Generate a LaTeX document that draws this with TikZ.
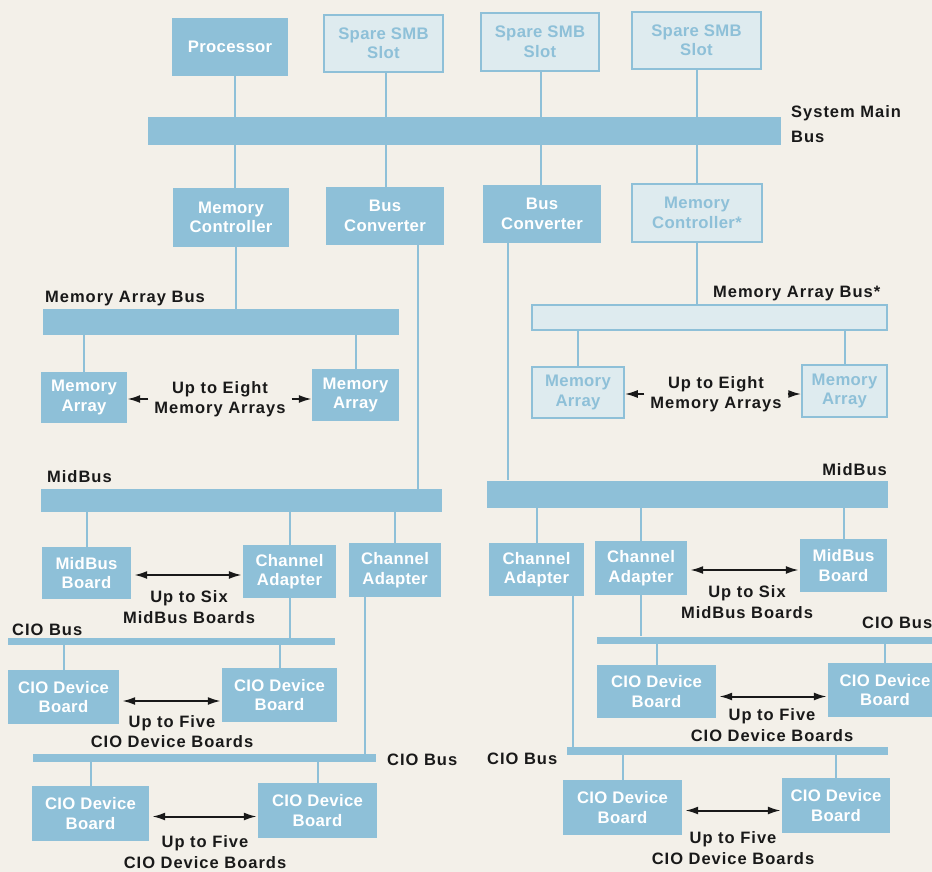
\documentclass[tikz,border=0pt]{standalone}
\usepackage{fontspec}
\setmainfont{Liberation Sans}
\newfontfamily\boxfont{Liberation Sans}[LetterSpace=2]
\newfontfamily\labelfont{Liberation Sans}[LetterSpace=6]
\usetikzlibrary{arrows.meta}
\definecolor{paper}{RGB}{243,240,233}
\definecolor{hpblue}{RGB}{142,192,216}
\definecolor{hppale}{RGB}{222,235,239}
\definecolor{ink}{RGB}{25,25,25}
\pgfdeclarelayer{paperlayer}
\pgfdeclarelayer{wires}
\pgfsetlayers{paperlayer,wires,main}

\begin{document}
\begin{tikzpicture}[x=1pt,y=-1pt,
  txt/.style={font=\boxfont\bfseries\fontsize{16.7}{19.5}\selectfont, align=center},
  sz/.style 2 args={minimum width=#1pt, minimum height=#2pt},
  unit/.style={txt, fill=hpblue, text=white, inner sep=0pt},
  spare/.style={txt, fill=hppale, draw=hpblue, line width=1.5pt, text=hpblue, inner sep=0pt},
  busbar/.style={fill=hpblue, inner sep=0pt},
  sparebus/.style={fill=hppale, draw=hpblue, line width=1.5pt, inner sep=0pt},
  lbl/.style={align=center, text=ink, inner sep=0pt, font=\labelfont\bfseries\fontsize{16.5}{20.5}\selectfont},
  lbltall/.style={lbl, align=left, font=\labelfont\bfseries\fontsize{16.5}{25}\selectfont},
  note/.style={lbl, inner xsep=6pt},
  wire/.style={draw=hpblue, line width=2pt},
  onehead/.style={draw=ink, line width=2pt, -{Latex[length=13pt,width=8pt]}},
  twohead/.style={draw=ink, line width=2pt, {Latex[length=13pt,width=8pt]}-{Latex[length=13pt,width=8pt]}, shorten <=3pt, shorten >=1pt},
]
\useasboundingbox (0,0) rectangle (932,872);
\clip (0,0) rectangle (932,872);
\begin{pgfonlayer}{paperlayer}
  \fill[paper] (0,0) rectangle (932,872);
\end{pgfonlayer}

% System Main Bus and its slots
\node[unit, sz={116}{58}] (proc) at (230,47) {Processor};
\node[spare, sz={119}{57}] (sp1) at (383.5,43.5) {Spare SMB\\Slot};
\node[spare, sz={118}{58}] (sp2) at (540,42) {Spare SMB\\Slot};
\node[spare, sz={129}{57}] (sp3) at (696.5,40.5) {Spare SMB\\Slot};
\node[busbar, sz={633}{28}] (smb) at (464.5,131) {};
\node[lbltall, anchor=north west] (smblbl) at (791,105) {System Main\\Bus};

\node[unit, sz={116}{59}] (mcL) at (231,217.5) {Memory\\Controller};
\node[unit, sz={118}{58}] (bcL) at (385,216) {Bus\\Converter};
\node[unit, sz={118}{58}] (bcR) at (542,214) {Bus\\Converter};
\node[spare, sz={130}{58}] (mcR) at (697,213) {Memory\\Controller*};

% Memory array buses
\node[busbar, sz={356}{26}] (mabL) at (221,322) {};
\node[lbl, anchor=base west] (mablL) at (45,302) {Memory Array Bus};
\node[sparebus, sz={355}{25}] (mabR) at (709.5,317.5) {};
\node[lbl, anchor=base west] (mablR) at (713,297) {Memory Array Bus*};

\node[unit, sz={86}{51}] (maL1) at (84,397.5) {Memory\\Array};
\node[unit, sz={87}{52}] (maL2) at (355.5,395) {Memory\\Array};
\node[spare, sz={92}{51}] (maR1) at (578,392.5) {Memory\\Array};
\node[spare, sz={85}{52}] (maR2) at (844.5,391) {Memory\\Array};
\node[note] (nmaL) at (220,399) {Up to Eight\\Memory Arrays};
\node[note] (nmaR) at (716,394) {Up to Eight\\Memory Arrays};

% MidBuses
\node[busbar, sz={401}{23}] (midL) at (241.5,500.5) {};
\node[lbl, anchor=base west] (midlL) at (47,482) {MidBus};
\node[busbar, sz={401}{27}] (midR) at (687.5,494) {};
\node[lbl, anchor=base east] (midlR) at (887,475) {MidBus};

\node[unit, sz={89}{52}] (mbL) at (86.5,573) {MidBus\\Board};
\node[unit, sz={93}{53}] (caL1) at (289.5,571.5) {Channel\\Adapter};
\node[unit, sz={92}{54}] (caL2) at (395,570) {Channel\\Adapter};
\node[note] (nmbL) at (189,607) {Up to Six\\MidBus Boards};
\node[unit, sz={95}{53}] (caR1) at (536.5,569.5) {Channel\\Adapter};
\node[unit, sz={92}{54}] (caR2) at (641,568) {Channel\\Adapter};
\node[unit, sz={87}{53}] (mbR) at (843.5,565.5) {MidBus\\Board};
\node[note] (nmbR) at (747,602) {Up to Six\\MidBus Boards};

% CIO buses, left half
\node[busbar, sz={327}{7}] (cioL1) at (171.5,641.5) {};
\node[lbl, anchor=base west] (ciolL1) at (12,635) {CIO Bus};
\node[unit, sz={111}{54}] (cdL1) at (63.5,697) {CIO Device\\Board};
\node[unit, sz={115}{54}] (cdL2) at (279.5,695) {CIO Device\\Board};
\node[note] (ncdL1) at (172,731.5) {Up to Five\\CIO Device Boards};
\node[busbar, sz={343}{8}] (cioL2) at (204.5,758) {};
\node[lbl, anchor=base west] (ciolL2) at (387,765) {CIO Bus};
\node[unit, sz={117}{55}] (cdL3) at (90.5,813.5) {CIO Device\\Board};
\node[unit, sz={119}{55}] (cdL4) at (317.5,810.5) {CIO Device\\Board};
\node[note] (ncdL2) at (205,852) {Up to Five\\CIO Device Boards};

% CIO buses, right half
\node[busbar, sz={340}{7}] (cioR1) at (767,640) {};
\node[lbl, anchor=base west] (ciolR1) at (862,628) {CIO Bus};
\node[unit, sz={119}{53}] (cdR1) at (656.5,691.5) {CIO Device\\Board};
\node[unit, sz={114}{54}] (cdR2) at (885,690) {CIO Device\\Board};
\node[note] (ncdR1) at (772,725) {Up to Five\\CIO Device Boards};
\node[busbar, sz={321}{8}] (cioR2) at (727.5,751) {};
\node[lbl, anchor=base west] (ciolR2) at (487,764) {CIO Bus};
\node[unit, sz={119}{55}] (cdR3) at (622.5,807.5) {CIO Device\\Board};
\node[unit, sz={108}{55}] (cdR4) at (836,805.5) {CIO Device\\Board};
\node[note] (ncdR2) at (733,848) {Up to Five\\CIO Device Boards};

% bus taps
\begin{pgfonlayer}{wires}
  \draw[wire] ([xshift=5pt]proc.south) -- ([xshift=5pt]proc.south |- mcL.north);
  \draw[wire] ([xshift=2.5pt]sp1.south) -- ([xshift=2.5pt]sp1.south |- bcL.north);
  \draw[wire] ([xshift=1pt]sp2.south) -- ([xshift=1pt]sp2.south |- bcR.north);
  \draw[wire] (sp3.south) -- (sp3.south |- mcR.north);

  \draw[wire] ([xshift=5pt]mcL.south) -- ([xshift=5pt]mcL.south |- mabL.north);
  \draw[wire] (mcR.south) -- (mcR.south |- mabR.north);
  \draw[wire] (maL1.north |- mabL.south) -- (maL1.north);
  \draw[wire] (maL2.north |- mabL.south) -- (maL2.north);
  \draw[wire] (maR1.north |- mabR.south) -- (maR1.north);
  \draw[wire] (maR2.north |- mabR.south) -- (maR2.north);

  \draw[wire] ([xshift=33pt]bcL.south) -- ([xshift=33pt]bcL.south |- midL.north);
  \draw[wire] ([xshift=-34pt]bcR.south) -- ([xshift=-34pt]bcR.south |- midR.north);

  \draw[wire] (mbL.north |- midL.south) -- (mbL.north);
  \draw[wire] (caL1.north |- midL.south) -- (caL1.north);
  \draw[wire] (caL2.north |- midL.south) -- (caL2.north);
  \draw[wire] (caR1.north |- midR.south) -- (caR1.north);
  \draw[wire] (caR2.north |- midR.south) -- (caR2.north);
  \draw[wire] (mbR.north |- midR.south) -- (mbR.north);

  \draw[wire] (caL1.south) -- (caL1.south |- cioL1.north);
  \draw[wire] ([xshift=-30pt]caL2.south) -- ([xshift=-30pt]caL2.south |- cioL2.north);
  \draw[wire] (caR2.south) -- (caR2.south |- cioR1.north);
  \draw[wire] ([xshift=36.5pt]caR1.south) -- ([xshift=36.5pt]caR1.south |- cioR2.north);

  \draw[wire] (cdL1.north |- cioL1.south) -- (cdL1.north);
  \draw[wire] (cdL2.north |- cioL1.south) -- (cdL2.north);
  \draw[wire] (cdL3.north |- cioL2.south) -- (cdL3.north);
  \draw[wire] (cdL4.north |- cioL2.south) -- (cdL4.north);
  \draw[wire] (cdR1.north |- cioR1.south) -- (cdR1.north);
  \draw[wire] (cdR2.north |- cioR1.south) -- (cdR2.north);
  \draw[wire] (cdR3.north |- cioR2.south) -- (cdR3.north);
  \draw[wire] (cdR4.north |- cioR2.south) -- (cdR4.north);
\end{pgfonlayer}

% count arrows
\draw[onehead] (nmaL.west) -- (nmaL.west -| maL1.east);
\draw[onehead] (nmaL.east) -- (nmaL.east -| maL2.west);
\draw[onehead] (nmaR.west) -- (nmaR.west -| maR1.east);
\draw[onehead] (nmaR.east) -- (nmaR.east -| maR2.west);

\draw[twohead] ([yshift=-2pt]mbL.east) -- ([yshift=-2pt]mbL.east -| caL1.west);
\draw[twohead] ([yshift=-2pt]caR2.east) -- ([yshift=-2pt]caR2.east -| mbR.west);
\draw[twohead] ([yshift=-4pt]cdL1.east) -- ([yshift=-4pt]cdL1.east -| cdL2.west);
\draw[twohead] ([yshift=-3pt]cdL3.east) -- ([yshift=-3pt]cdL3.east -| cdL4.west);
\draw[twohead] ([yshift=-5pt]cdR1.east) -- ([yshift=-5pt]cdR1.east -| cdR2.west);
\draw[twohead] ([yshift=-3pt]cdR3.east) -- ([yshift=-3pt]cdR3.east -| cdR4.west);
\end{tikzpicture}
\end{document}
